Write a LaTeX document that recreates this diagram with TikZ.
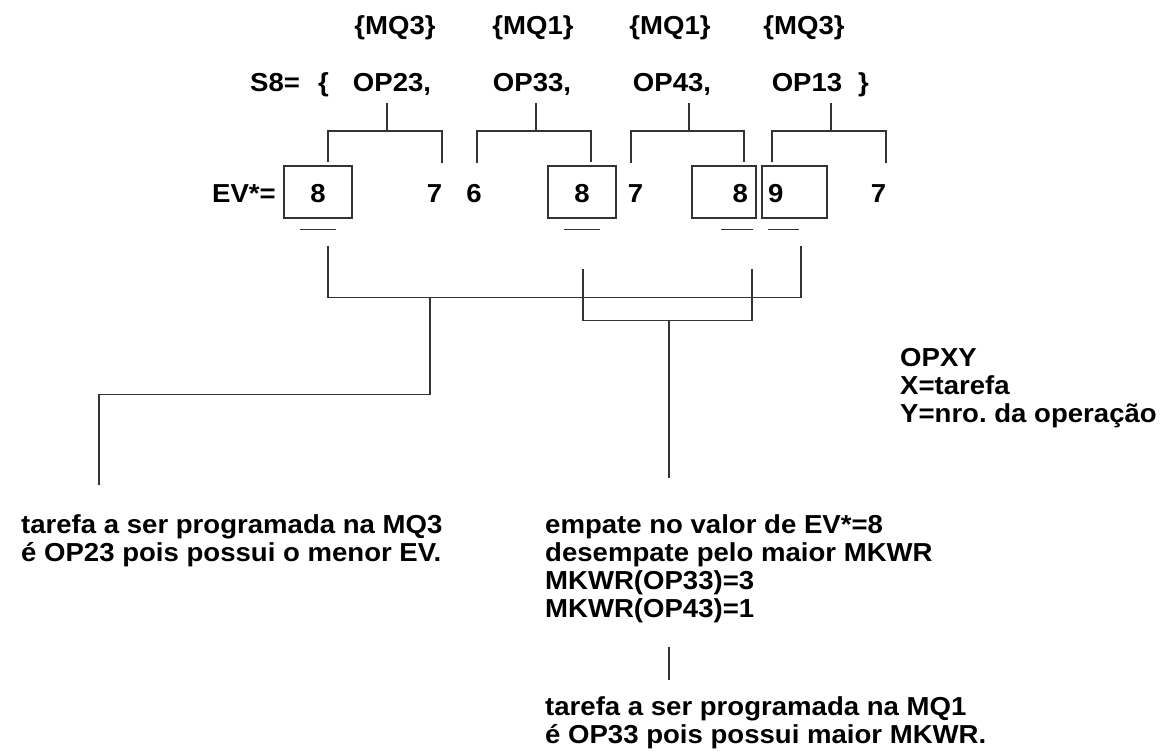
\documentclass[tikz,border=0pt]{standalone}
\usepackage{fontspec}
\setmainfont{Liberation Sans}[FakeStretch=1.06]
\usetikzlibrary{positioning}
\frenchspacing

\begin{document}
\begin{tikzpicture}[
    x=1pt, y=-1pt,
    every node/.style={inner sep=0pt, font=\bfseries\fontsize{26}{28}\selectfont},
    txt/.style={anchor=base},
    valbox/.style={draw=black!80, line width=1.2pt, anchor=base, minimum width=68pt, text height=36pt, text depth=16pt},
    note/.style={align=left, anchor=north west},
    link/.style={draw=black!80, line width=1.1pt}
]
\useasboundingbox (0,0) rectangle (1172,753);

% machines above the operations
\node[txt] (mq23) at (395,34) {\{MQ3\}};
\node[txt] (mq33) at (533,34) {\{MQ1\}};
\node[txt] (mq43) at (670,34) {\{MQ1\}};
\node[txt] (mq13) at (804,34) {\{MQ3\}};

% sequence S8
\node[txt, anchor=base west] (s8) at (250,91) {S8=};
\node[txt, anchor=base west] (lb) at (318,91) {\{};
\node[txt] (op23) at (392,91) {OP23,};
\node[txt] (op33) at (532,91) {OP33,};
\node[txt] (op43) at (672,91) {OP43,};
\node[txt] (op13) at (807,91) {OP13};
\node[txt, anchor=base west] (rb) at (858,91) {\}};

% EV* values
\node[txt, anchor=base west] (ev) at (212,202) {EV*=};
\node[valbox] (box1) at (318,202) {8};
\node[txt] (v1) at (434.5,202) {7};
\node[txt] (v2) at (474,202) {6};
\node[valbox] (box2) at (582,202) {8};
\node[txt] (v3) at (635.5,202) {7};
\node[valbox, minimum width=64pt, text width=48pt, align=right] (box3) at (724,202) {8};
\node[valbox, minimum width=65pt, text width=53pt, align=left] (box4) at (794.5,202) {9};
\node[txt] (v4) at (878.5,202) {7};

% brackets from each operation to its values
\draw[link] ([xshift=-5pt,yshift=-12pt]op23.base) -- ++(0,28) coordinate (j1);
\draw[link] ([xshift=10pt,yshift=3pt]box1.north) |- (j1) -| ([xshift=7.5pt,yshift=39pt]v1.base);
\draw[link] ([xshift=4pt,yshift=-12pt]op33.base) -- ++(0,28) coordinate (j2);
\draw[link] ([xshift=3pt,yshift=39pt]v2.base) |- (j2) -| ([xshift=9pt,yshift=3pt]box2.north);
\draw[link] ([xshift=17pt,yshift=-12pt]op43.base) -- ++(0,28) coordinate (j3);
\draw[link] ([xshift=-4.5pt,yshift=39pt]v3.base) |- (j3) -| ([xshift=20pt,yshift=3pt]box3.north);
\draw[link] ([xshift=24pt,yshift=-12pt]op13.base) -- ++(0,28) coordinate (j4);
\draw[link] ([xshift=-22.5pt,yshift=3pt]box4.north) |- (j4) -| ([xshift=7.5pt,yshift=39pt]v4.base);

% underlines
\draw[link] ([xshift=-18pt,yshift=-11pt]box1.south) -- ++(36,0);
\draw[link] ([xshift=-18pt,yshift=-11pt]box2.south) -- ++(36,0);
\draw[link] ([xshift=-3pt,yshift=-11pt]box3.south) -- ++(32,0);
\draw[link] ([xshift=-26.5pt,yshift=-11pt]box4.south) -- ++(31,0);

% grouping of the boxed values
\draw[link] ([xshift=10pt,yshift=-27pt]box1.south) -- ++(0,52) coordinate (h1) -- ([xshift=6.5pt,yshift=-79pt]box4.south) -- ++(0,-52);
\draw[link] ([xshift=1pt,yshift=-50pt]box2.south) -- ++(0,52) coordinate (h2) -- ([xshift=28pt,yshift=-102pt]box3.south) -- ++(0,-52);

% notes
\node[note] (nt1) at (21,514.5) {tarefa a ser programada na MQ3\\é OP23 pois possui o menor EV.};
\node[note] (nt2) at (545,514.5) {empate no valor de EV*=8\\desempate pelo maior MKWR\\MKWR(OP33)=3\\MKWR(OP43)=1};
\node[note, below=73pt of nt2.south west, anchor=north west] (nt3) {tarefa a ser programada na MQ1\\é OP33 pois possui maior MKWR.};
\node[note] (key) at (900,348.5) {OPXY\\X=tarefa\\Y=nro. da operação};

\draw[link] ([xshift=102pt]h1) -- ++(0,97) -| ([xshift=78pt,yshift=29.5pt]nt1.north west);
\draw[link] ([xshift=86pt]h2) -- ([xshift=124pt,yshift=37pt]nt2.north west);
\draw[link] ([xshift=124pt,yshift=-24pt]nt2.south west) -- ([xshift=124pt,yshift=16pt]nt3.north west);

\end{tikzpicture}
\end{document}
